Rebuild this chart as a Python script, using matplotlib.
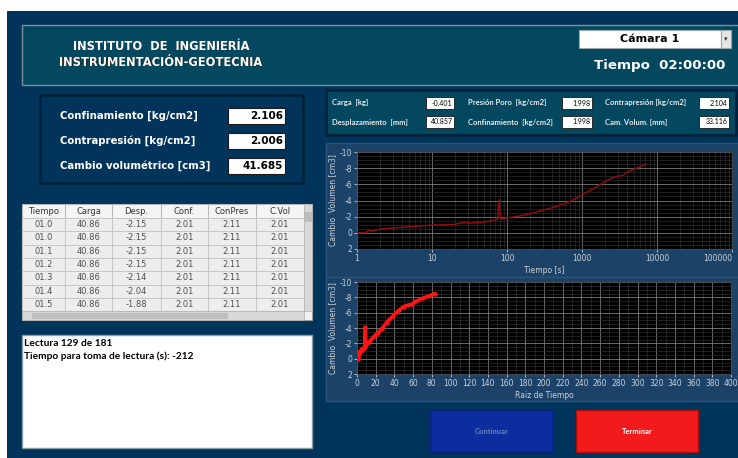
import matplotlib
matplotlib.use("Agg")
import matplotlib.pyplot as plt
from matplotlib.patches import Rectangle
from matplotlib.ticker import FixedLocator, MultipleLocator, LogLocator, NullFormatter
import numpy as np

plt.rcParams['axes.unicode_minus'] = False

# curva de consolidacion: tiempo [s] y cambio de volumen [cm3]
tiempo = [1, 1.3, 1.4, 1.6, 2, 3, 5, 7, 10, 15, 20, 28, 30, 40, 50, 60, 70, 75,
          78, 82, 100, 150, 200, 300, 400, 500, 700, 1000, 1500, 2000, 2500,
          3000, 3500, 4000, 5000, 6000, 7000]
cambio_vol = [0, 0, -0.3, -0.2, -0.45, -0.6, -0.75, -0.85, -0.95, -1.0, -1.05,
              -1.3, -1.2, -1.25, -1.35, -1.45, -1.6, -1.7, -4.1, -1.7, -1.85,
              -2.1, -2.35, -2.8, -3.1, -3.4, -3.9, -4.7, -5.6, -6.3, -6.8,
              -7.0, -7.1, -7.5, -7.9, -8.2, -8.5]

log_ticks = [1, 10, 100, 1000, 10000, 100000]
vol_ticks = [-10, -8, -6, -4, -2, 0, 2]
raiz_ticks = list(range(0, 401, 20))

# indicadores
indicadores = [("Confinamiento [kg/cm2]", "2.106"),
               ("Contrapresión [kg/cm2]", "2.006"),
               ("Cambio volumétrico [cm3]", "41.685")]
lecturas = [[("Carga  [kg]", "-0.401"), ("Presión Poro  [kg/cm2]", "1.998"),
             ("Contrapresión [kg/cm2]", "2.104")],
            [("Desplazamiento  [mm]", "40.857"), ("Confinamiento  [kg/cm2]", "1.998"),
             ("Cam. Volum. [mm]", "33.116")]]

# tabla
columnas = ["Tiempo", "Carga", "Desp.", "Conf.", "ConPres", "C.Vol"]
filas = [["01.0", "40.86", "-2.15", "2.01", "2.11", "2.01"],
         ["01.0", "40.86", "-2.15", "2.01", "2.11", "2.01"],
         ["01.1", "40.86", "-2.15", "2.01", "2.11", "2.01"],
         ["01.2", "40.86", "-2.15", "2.01", "2.11", "2.01"],
         ["01.3", "40.86", "-2.14", "2.01", "2.11", "2.01"],
         ["01.4", "40.86", "-2.04", "2.01", "2.11", "2.01"],
         ["01.5", "40.86", "-1.88", "2.01", "2.11", "2.01"]]

W, H = 738, 458
fig = plt.figure(figsize=(W / 100, H / 100), dpi=100)
fig.patch.set_facecolor("white")
bg = fig.add_axes([0, 0, 1, 1])
bg.set_xlim(0, W)
bg.set_ylim(H, 0)
bg.axis("off")

NAVY = "#01345a"
TEAL = "#03485e"


def rect(x0, y0, x1, y1, fc, ec="none", lw=1.0, z=1):
    bg.add_patch(Rectangle((x0, y0), x1 - x0, y1 - y0, facecolor=fc,
                           edgecolor=ec, linewidth=lw, zorder=z))


# fondo
rect(7, 11, W, H, NAVY)

# encabezado
rect(22, 25, W + 2, 85, TEAL, ec="#7f8f96", lw=1)
for i, line in enumerate(["INSTITUTO  DE  INGENIERÍA", "INSTRUMENTACIÓN-GEOTECNIA"]):
    bg.text(161.6, 46.6 + i * 16, line, color="#222222", fontsize=8.3,
            fontweight="bold", ha="center", va="center", zorder=3)
    bg.text(161, 46 + i * 16, line, color="white", fontsize=8.3,
            fontweight="bold", ha="center", va="center", zorder=4)
rect(579, 30, 721, 48, "white", ec="#9aa6ac", lw=0.8, z=2)
rect(721, 30, 731, 48, "#e4e4e4", ec="#9aa6ac", lw=0.8, z=2)
bg.text(726, 39.5, "▾", fontsize=5, ha="center", va="center", color="#333333", zorder=3)
bg.text(650, 39.5, "Cámara 1", fontsize=8, fontweight="bold", ha="center",
        va="center", color="black", zorder=3)
bg.text(725, 65, "Tiempo  02:00:00", fontsize=9.6, fontweight="bold",
        ha="right", va="center", color="white", zorder=3)

# indicadores izquierda
rect(40, 95, 303, 183, NAVY, ec="#00223c", lw=2)
for i, (lab, val) in enumerate(indicadores):
    y = 116 + i * 25
    bg.text(60, y, lab, color="white", fontsize=7.3, fontweight="bold",
            ha="left", va="center", zorder=3)
    rect(228, y - 8, 285, y + 8, "white", ec="#1a1a1a", lw=0.8, z=2)
    bg.text(283, y, val, color="black", fontsize=7.5, fontweight="bold",
            ha="right", va="center", zorder=3)

# lecturas arriba derecha
rect(326, 90, 736, 135, TEAL, ec="#00223c", lw=2)
col_x = [(332, 426, 454), (468, 562, 592), (605, 699, 729)]
for r, fila in enumerate(lecturas):
    y = 103 + r * 19
    for (lab, val), (xl, xb0, xb1) in zip(fila, col_x):
        bg.text(xl, y, lab, color="#e8eef2", fontsize=5.5, fontweight="bold",
                family="Lato", ha="left", va="center", zorder=3)
        rect(xb0, y - 6, xb1, y + 6, "white", ec="#1a1a1a", lw=0.6, z=2)
        bg.text(xb1 - 1.5, y, val, color="black", fontsize=5, family="Lato",
                ha="right", va="center", zorder=3)

# paneles de graficas
rect(326, 143, W + 2, 277, "#1c4367", ec="#2b5478", lw=1)
rect(326, 277, W + 2, 401, "#1c4367", ec="#2b5478", lw=1)

# tabla
col_edges = [22, 65, 112, 161, 208, 256, 304]
row_h = 13.3
y_head = 204
rect(22, y_head, 312, 320, "#f2f2f2", ec="#9a9a9a", lw=0.8)
for c, name in enumerate(columnas):
    x0, x1 = col_edges[c], col_edges[c + 1]
    rect(x0, y_head, x1, y_head + 14, "#f4f4f4", ec="#b0b0b0", lw=0.6, z=2)
    bg.text((x0 + x1) / 2, y_head + 7, name, fontsize=6, color="#333333",
            ha="center", va="center", zorder=3)
    for r, fila in enumerate(filas):
        y0 = y_head + 14 + r * row_h
        rect(x0, y0, x1, y0 + row_h, "#ededed", ec="#c4c4c4", lw=0.6, z=2)
        bg.text((x0 + x1) / 2, y0 + row_h / 2, fila[c], fontsize=6,
                color="#505050", ha="center", va="center", zorder=3)
y_end = y_head + 14 + len(filas) * row_h
rect(304, y_head, 312, y_end, "#d8d8d8", ec="#b0b0b0", lw=0.5, z=2)
rect(304.5, y_head + 8, 311.5, y_head + 18, "#bcbcbc", z=3)
rect(22, y_end, 304, 320, "#d8d8d8", ec="#b0b0b0", lw=0.5, z=2)
rect(32, y_end + 1.5, 228, 318.5, "#bdbdbd", z=3)

# caja de mensajes
rect(22, 335, 312, 448, "white", ec="#8a9aa6", lw=1)
bg.text(24, 344, "Lectura 129 de 181", fontsize=7.3, fontweight="bold",
        family="Lato", color="black", ha="left", va="center", zorder=3)
bg.text(24, 356, "Tiempo para toma de lectura (s): -212", fontsize=7.3,
        fontweight="bold", family="Lato", color="black", ha="left",
        va="center", zorder=3)

# botones
rect(430, 410, 553, 452, "#0b2d9e", ec="#08207a", lw=1)
bg.text(491.5, 431, "Continuar", fontsize=5.5, fontweight="bold", family="Lato",
        color="#6d84b8", ha="center", va="center", zorder=3)
rect(576, 410, 698, 452, "#f21b1b", ec="#a80f0f", lw=1)
bg.text(637, 431, "Terminar", fontsize=5.5, fontweight="bold", family="Lato",
        color="white", ha="center", va="center", zorder=3)


def style_chart(ax):
    ax.set_facecolor("black")
    for s in ax.spines.values():
        s.set_color("#4a4a4a")
        s.set_linewidth(0.6)
    ax.tick_params(which="major", colors="#c9d2da", labelsize=5.5, length=2,
                   width=0.6, pad=1.5)
    ax.tick_params(which="minor", length=0)
    ax.grid(which="major", color="#7a7a7a", lw=0.6)
    ax.grid(which="minor", color="#363636", lw=0.4)
    ax.set_ylim(2, -10)
    ax.yaxis.set_major_locator(FixedLocator(vol_ticks))
    ax.yaxis.set_minor_locator(MultipleLocator(0.5))
    ax.set_yticklabels([str(v) for v in vol_ticks])
    ax.set_ylabel("Cambio  Volumen [cm3]", color="#c9d2da", fontsize=5.5, labelpad=2)


# grafica tiempo (log)
ax1 = fig.add_axes([357 / W, 1 - 249 / H, (732 - 357) / W, (249 - 152) / H])
style_chart(ax1)
ax1.set_xscale("log")
ax1.set_xlim(1, 100000)
ax1.xaxis.set_major_locator(FixedLocator(log_ticks))
ax1.xaxis.set_minor_locator(LogLocator(base=10, subs=np.arange(2, 10)))
ax1.xaxis.set_minor_formatter(NullFormatter())
ax1.set_xticklabels([str(v) for v in log_ticks])
ax1.get_xticklabels()[-1].set_horizontalalignment("right")
ax1.set_xlabel("Tiempo [s]", color="#c9d2da", fontsize=5.5, labelpad=2)
ax1.plot(tiempo, cambio_vol, color="#8e0c0c", lw=1.1)

# grafica raiz de tiempo
ax2 = fig.add_axes([357 / W, 1 - 374 / H, (731 - 357) / W, (374 - 282) / H])
style_chart(ax2)
ax2.set_xlim(0, 400)
ax2.xaxis.set_major_locator(FixedLocator(raiz_ticks))
ax2.xaxis.set_minor_locator(MultipleLocator(10))
ax2.set_xticklabels([str(v) for v in raiz_ticks])
ax2.set_xlabel("Raiz de Tiempo", color="#c9d2da", fontsize=5.5, labelpad=2)
ax2.plot(np.sqrt(tiempo), cambio_vol, color="#ff1414", lw=2.6,
         marker="o", ms=2, solid_capstyle="round")

fig.savefig("out.png", dpi=100, facecolor=fig.get_facecolor())
